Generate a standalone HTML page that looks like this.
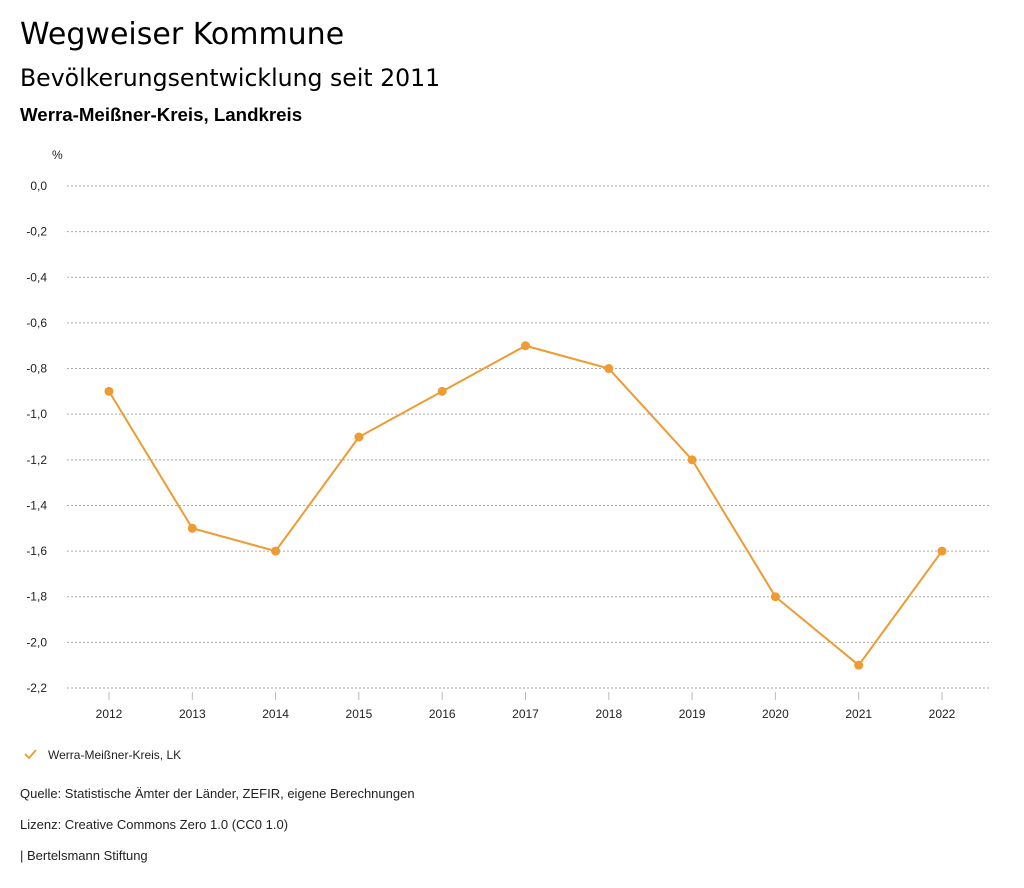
<!DOCTYPE html>
<html><head><meta charset="utf-8"><style>
body{margin:0;background:#fff;font-family:"Liberation Sans",sans-serif;color:#000;width:1024px;height:888px;overflow:hidden}
.t{position:absolute;left:20px;white-space:nowrap}
</style></head><body>
<div class="t" style="top:17px;font-size:30px;font-family:'DejaVu Sans',sans-serif">Wegweiser Kommune</div>
<div class="t" style="top:64px;font-size:23.6px;font-family:'DejaVu Sans',sans-serif">Bevölkerungsentwicklung seit 2011</div>
<div class="t" style="top:104px;font-size:18.7px;font-weight:bold">Werra-Meißner-Kreis, Landkreis</div>
<svg id="chart" width="1024" height="888" style="position:absolute;left:0;top:0" font-family="Liberation Sans, sans-serif"></svg>
<div class="t" style="top:786px;font-size:13px;color:#222">Quelle: Statistische Ämter der Länder, ZEFIR, eigene Berechnungen</div>
<div class="t" style="top:817px;font-size:13px;color:#222">Lizenz: Creative Commons Zero 1.0 (CC0 1.0)</div>
<div class="t" style="top:848px;font-size:13px;color:#222">| Bertelsmann Stiftung</div>
<script>
const years=[2012,2013,2014,2015,2016,2017,2018,2019,2020,2021,2022];
const values=[-0.9,-1.5,-1.6,-1.1,-0.9,-0.7,-0.8,-1.2,-1.8,-2.1,-1.6];
const yTicks=[0,-0.2,-0.4,-0.6,-0.8,-1.0,-1.2,-1.4,-1.6,-1.8,-2.0,-2.2];
const NS='http://www.w3.org/2000/svg';
const svg=document.getElementById('chart');
const x=i=>109+i*(942-109)/(years.length-1);
const y=v=>186+(0-v)/2.2*(688-186);
function mk(t,a){const e=document.createElementNS(NS,t);for(const k in a)e.setAttribute(k,a[k]);svg.appendChild(e);return e;}
const u=mk('text',{x:52,y:159,'font-size':12,fill:'#222'});u.textContent='%';


yTicks.forEach(v=>{
 const l=mk('line',{x1:67,x2:990,y1:y(v),y2:y(v),stroke:'#aaa','stroke-dasharray':'2,2','stroke-width':1});
 
 
 const t=mk('text',{x:47,y:y(v)+4,'font-size':12,'text-anchor':'end',fill:'#222'});
 t.textContent=v.toFixed(1).replace('.',',');
 
 
});
years.forEach((yr,i)=>{
 const m=mk('line',{x1:x(i),x2:x(i),y1:692,y2:700,stroke:'#bbb'});
 
 
 const t=mk('text',{x:x(i),y:718,'font-size':12,'text-anchor':'middle',fill:'#222'});
 t.textContent=yr;
 
 
});
const p=mk('polyline',{points:values.map((v,i)=>x(i)+','+y(v)).join(' '),fill:'none',stroke:'#ee9b33','stroke-width':2});


values.forEach((v,i)=>{
 const c=mk('circle',{cx:x(i),cy:y(v),r:4.5,fill:'#ee9b33'});
 
 
});
const lm=mk('polyline',{points:'25,754 29,758 36,750',fill:'none',stroke:'#ee9b33','stroke-width':1.8});


const lt=mk('text',{x:48,y:759,'font-size':12,fill:'#222'});
lt.textContent='Werra-Meißner-Kreis, LK';


</script>
</body></html>
